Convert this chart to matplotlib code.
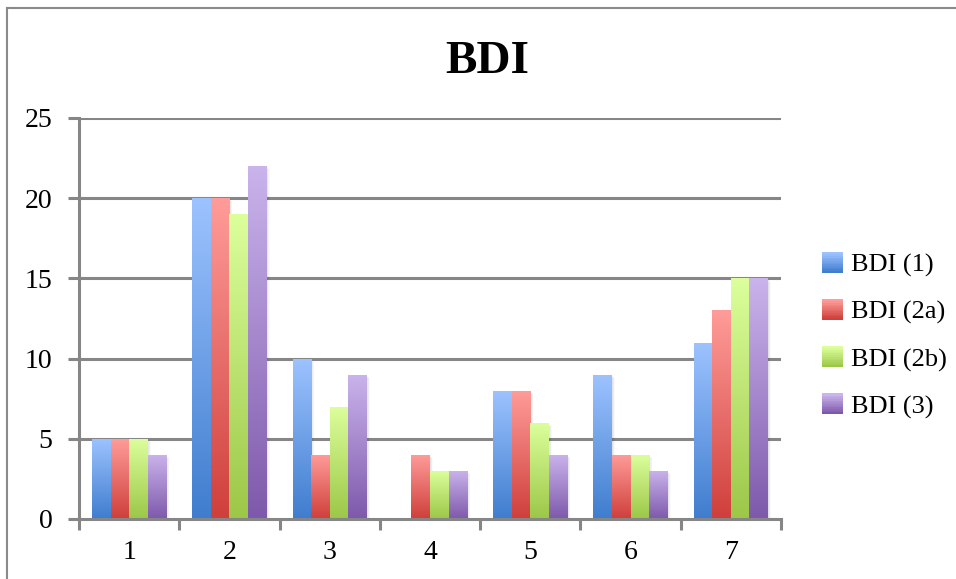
import numpy as np
import matplotlib
matplotlib.use("Agg")
import matplotlib.pyplot as plt
from matplotlib.patches import Rectangle
from matplotlib.legend_handler import HandlerBase
from matplotlib.lines import Line2D
from matplotlib.colors import LinearSegmentedColormap

plt.rcParams['font.family'] = ['Liberation Serif', 'DejaVu Serif']

categories = ['1', '2', '3', '4', '5', '6', '7']
series_names = ['BDI (1)', 'BDI (2a)', 'BDI (2b)', 'BDI (3)']
bdi_1 = [5, 20, 10, 0, 8, 9, 11]
bdi_2a = [5, 20, 4, 4, 8, 4, 13]
bdi_2b = [5, 19, 7, 3, 6, 4, 15]
bdi_3 = [4, 22, 9, 3, 4, 3, 15]
y_ticks = [0, 5, 10, 15, 20, 25]

series = [bdi_1, bdi_2a, bdi_2b, bdi_3]
# (top colour, bottom colour) for each series' vertical gradient
gradients = [
    ('#9dc3ff', '#3f7dce'),
    ('#ff9c99', '#cf3f3b'),
    ('#dcff9c', '#9cc748'),
    ('#cab4ec', '#7e59ab'),
]

fig = plt.figure(figsize=(9.56, 5.79), dpi=100)
ax = fig.add_axes([79 / 956, 60 / 579, (781 - 79) / 956, (519 - 118) / 579])

n_groups = len(categories)
n_series = len(series)
bar_w = 0.185
x = np.arange(n_groups)
ax.set_xlim(-0.5, n_groups - 0.5)
ax.set_ylim(0, 25)

grid_color = '#868686'
for yv in y_ticks[1:]:
    ax.axhline(yv, color=grid_color, lw=2.2, zorder=1)

grad = np.linspace(1, 0, 256).reshape(-1, 1)

for si, (vals, (ctop, cbot)) in enumerate(zip(series, gradients)):
    cmap = LinearSegmentedColormap.from_list(f's{si}', [cbot, ctop])
    for gi, v in enumerate(vals):
        if v <= 0:
            continue
        left = x[gi] - n_series * bar_w / 2 + si * bar_w
        # soft drop shadow on the right side
        for k in range(1, 6):
            ax.add_patch(Rectangle((left + 0.006 * k, 0), bar_w, v - 0.04 * k,
                                   facecolor='black', alpha=0.022,
                                   edgecolor='none', zorder=2))
        im = ax.imshow(grad, cmap=cmap, aspect='auto',
                       extent=(left, left + bar_w, 0, v),
                       interpolation='bilinear', zorder=3 + si * 0.01)
        clip = Rectangle((left, 0), bar_w, v, transform=ax.transData)
        im.set_clip_path(clip)

ax.set_xlim(-0.5, n_groups - 0.5)
ax.set_ylim(0, 25)

for side in ['top', 'right']:
    ax.spines[side].set_visible(False)
for side in ['left', 'bottom']:
    ax.spines[side].set_color(grid_color)
    ax.spines[side].set_linewidth(2.2)
    ax.spines[side].set_zorder(5)

ax.set_yticks(y_ticks)
ax.set_yticklabels([str(v) for v in y_ticks])
ax.set_xticks(np.arange(-0.5, n_groups, 1.0))
ax.set_xticklabels([])
ax.set_xticks(x, minor=True)
ax.set_xticklabels(categories, minor=True)
ax.tick_params(axis='x', which='major', length=8, width=2.2, color=grid_color)
ax.tick_params(axis='x', which='minor', length=0, pad=15, labelsize=20)
ax.tick_params(axis='y', length=8, width=2.2, color=grid_color, pad=11, labelsize=20)


class GradientSquare(HandlerBase):
    def __init__(self, top, bottom):
        super().__init__()
        self.top = top
        self.bottom = bottom

    def create_artists(self, legend, orig_handle, xdescent, ydescent,
                       width, height, fontsize, trans):
        cmap = LinearSegmentedColormap.from_list('h', [self.bottom, self.top])
        n = 12
        size = 14.5
        x0 = width - size - 1
        y0 = (height - size) / 2
        arts = []
        for i in range(n):
            r = Rectangle((x0 - xdescent, y0 - ydescent + size * i / n),
                          size, size / n + 0.3,
                          facecolor=cmap(i / (n - 1)), edgecolor='none',
                          transform=trans)
            arts.append(r)
        return arts


handles = [Rectangle((0, 0), 1, 1) for _ in series_names]
handler_map = {h: GradientSquare(t, b) for h, (t, b) in zip(handles, gradients)}
leg = fig.legend(handles, series_names, handler_map=handler_map,
                 loc='center left', bbox_to_anchor=(811 / 956, 1 - 336 / 579),
                 frameon=False, fontsize=19, handlelength=0.85,
                 handletextpad=0.25, labelspacing=0.88, borderaxespad=0)

fig.text(487 / 956, 1 - 73 / 579, 'BDI', ha='center', va='baseline',
         fontsize=34, fontweight='bold')

# outer chart frame
fig.add_artist(Line2D([7 / 956, 7 / 956], [0, 1 - 8 / 579],
                      transform=fig.transFigure, color='#8a8a8a', lw=1.5))
fig.add_artist(Line2D([7 / 956, 1], [1 - 8 / 579, 1 - 8 / 579],
                      transform=fig.transFigure, color='#8a8a8a', lw=1.5))

fig.savefig('out.png', dpi=100, facecolor='white')
